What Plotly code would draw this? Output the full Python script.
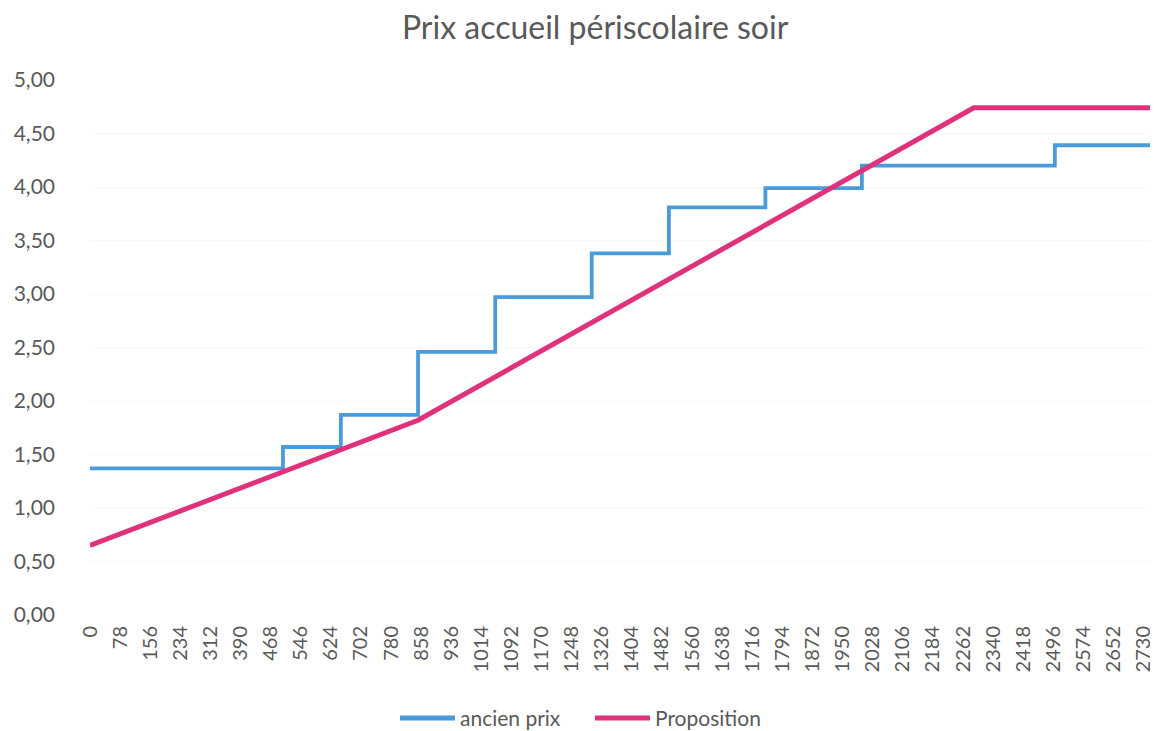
import plotly.graph_objects as go

# Old price: step breakpoints (quotient, price)
ancien_x = [0, 500, 650, 850, 1050, 1300, 1500, 1750, 2000, 2500, 2790]
ancien_y = [1.37, 1.57, 1.87, 2.46, 2.97, 3.38, 3.81, 3.99, 4.20, 4.39, 4.39]

# Proposal: piecewise linear breakpoints
prop_x = [0, 850, 2290, 2790]
prop_y = [0.65, 1.82, 4.74, 4.74]

tick_vals = list(range(0, 2731, 78))
tick_text = [str(v) for v in tick_vals]
y_ticks = [0, 0.5, 1, 1.5, 2, 2.5, 3, 3.5, 4, 4.5, 5]

FONT = "Lato, Open Sans, sans-serif"
GRAY = "#595959"
BLUE = "#4A9BDA"
PINK = "#E0317B"

fig = go.Figure()
fig.add_trace(go.Scatter(x=ancien_x, y=ancien_y, mode="lines", name="ancien prix",
                         line=dict(color=BLUE, width=3.8, shape="hv"), showlegend=False))
fig.add_trace(go.Scatter(x=prop_x, y=prop_y, mode="lines", name="Proposition",
                         line=dict(color=PINK, width=5), showlegend=False))

# Manual legend (line samples + labels), placed below the plot
LEG_Y = -0.1925
for (x0, x1, xt, col, label) in [(0.2881, 0.3392, 0.3420, BLUE, "ancien prix"),
                                 (0.4693, 0.5204, 0.5232, PINK, "Proposition")]:
    fig.add_shape(type="line", xref="paper", yref="paper", x0=x0, x1=x1, y0=LEG_Y, y1=LEG_Y,
                  line=dict(color=col, width=5))
    fig.add_annotation(xref="paper", yref="paper", x=xt, y=LEG_Y, text=label, showarrow=False,
                       xanchor="left", yanchor="middle", font=dict(size=21, color=GRAY, family=FONT))

fig.update_layout(
    width=1158, height=731,
    paper_bgcolor="white", plot_bgcolor="white",
    separators=", ",
    margin=dict(l=82, r=0, t=72, b=124),
    font=dict(family=FONT, color=GRAY, size=20),
    title=dict(text="Prix accueil périscolaire soir", x=0.507, xanchor="center",
               y=0.973, yanchor="middle", font=dict(size=32, color=GRAY, family=FONT)),
    showlegend=False,
    xaxis=dict(range=[0, 2788], tickmode="array", tickvals=tick_vals, ticktext=tick_text,
               tickangle=-90, showgrid=False, zeroline=False, showline=False,
               ticks="", ticklabelstandoff=6, tickfont=dict(size=20, color=GRAY)),
    yaxis=dict(range=[0, 5], tickmode="array", tickvals=y_ticks, tickformat=".2f",
               showgrid=True, gridcolor="#F7F7F7", gridwidth=1, zeroline=False,
               showline=False, ticks="", ticklabelstandoff=34,
               tickfont=dict(size=21, color=GRAY)),
)

fig.write_html("out.html")
